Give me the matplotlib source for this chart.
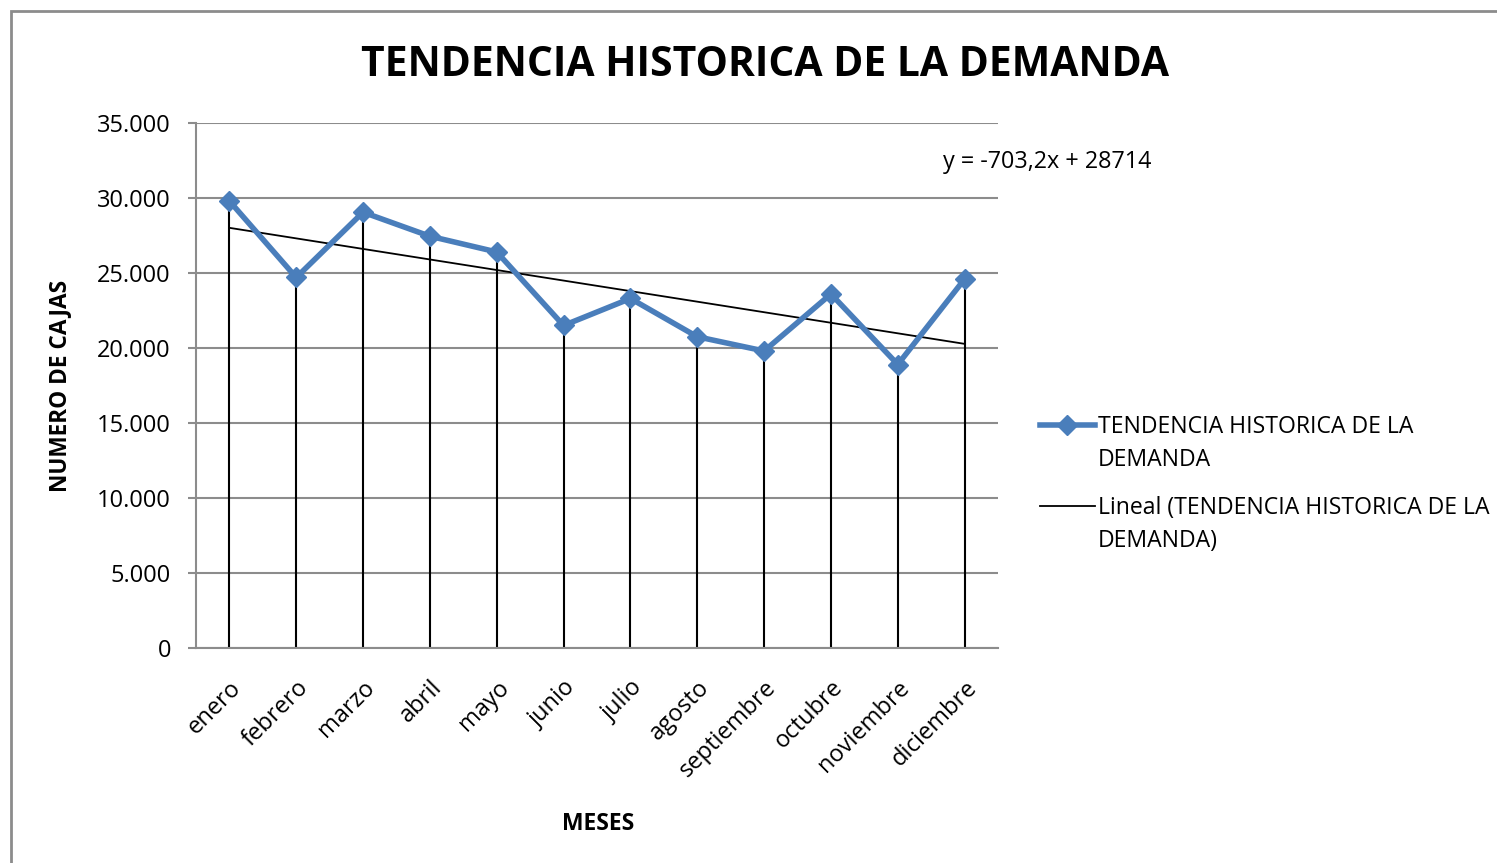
import numpy as np
import matplotlib.pyplot as plt
from matplotlib.lines import Line2D
from matplotlib.patches import Rectangle
from matplotlib.ticker import FuncFormatter

meses = ['enero', 'febrero', 'marzo', 'abril', 'mayo', 'junio', 'julio',
         'agosto', 'septiembre', 'octubre', 'noviembre', 'diciembre']
demanda = [29800, 24700, 29050, 27450, 26400, 21500, 23300,
           20750, 19800, 23600, 18900, 24600]
# linea de tendencia de Excel: y = m*x + b
pendiente = -703.2
intercepto = 28714

plt.rcParams['font.family'] = ['Open Sans', 'DejaVu Sans']
azul = '#4A7EBB'
gris = '#8C8C8C'
W, H = 1497, 863

fig = plt.figure(figsize=(W / 100, H / 100), dpi=100)
ax = fig.add_axes([0.1309, 0.2491, 0.5358, 0.6084])

x = np.arange(1, len(meses) + 1)

ax.vlines(x, 0, demanda, color='black', lw=1.5, zorder=2)
ax.plot(x, demanda, color=azul, lw=4, marker='D', markersize=10, zorder=4)
ax.plot(x, pendiente * x + intercepto, color='black', lw=1.3, zorder=3)

ax.set_xlim(0.5, 12.5)
ax.set_ylim(0, 35000)
ax.set_yticks(range(0, 35001, 5000))
ax.yaxis.set_major_formatter(FuncFormatter(lambda v, p: f'{int(v):,}'.replace(',', '.')))
ax.grid(axis='y', color=gris, lw=1.5, zorder=0)
ax.set_axisbelow(True)

for s in ['top', 'right']:
    ax.spines[s].set_visible(False)
for s in ['left', 'bottom']:
    ax.spines[s].set_color(gris)
    ax.spines[s].set_linewidth(1.5)

ax.set_xticks(x)
ax.set_xticklabels(meses, rotation=45, ha='right', va='top', rotation_mode='anchor')
ax.tick_params(axis='x', length=0, pad=20, labelsize=17)
ax.tick_params(axis='y', length=6, color=gris, width=1.5, pad=12, labelsize=17)

ax.set_ylabel('NUMERO DE CAJAS', fontsize=16.3, fontweight='bold', labelpad=18)
fig.text(598 / W, 1 - 824 / H, 'MESES', fontsize=16.5, fontweight='bold',
         ha='center', va='center')
fig.text(765 / W, 1 - 66 / H, 'TENDENCIA HISTORICA DE LA DEMANDA', fontsize=29.4,
         fontweight='bold', ha='center', va='center')
fig.text(943 / W, 1 - 162 / H, f'y = {pendiente:.1f}x + {intercepto}'.replace('.', ','),
         fontsize=16.8, ha='left', va='center')

# leyenda dibujada a mano para alinear la muestra con la primera linea del texto
leyenda = [
    (425, ['TENDENCIA HISTORICA DE LA', 'DEMANDA'], dict(color=azul, lw=4)),
    (506, ['Lineal (TENDENCIA HISTORICA DE LA', 'DEMANDA)'], dict(color='black', lw=1.3)),
]
for yp, lineas, estilo in leyenda:
    yf = 1 - yp / H
    fig.add_artist(Line2D([1040 / W, 1095 / W], [yf, yf], transform=fig.transFigure, **estilo))
    if estilo['color'] == azul:
        fig.add_artist(Line2D([1067 / W], [yf], transform=fig.transFigure, color=azul,
                              marker='D', markersize=10))
    for i, t in enumerate(lineas):
        fig.text(1098 / W, 1 - (yp + 2 + 33 * i) / H, t, fontsize=16.6,
                 ha='left', va='center')

fig.patches.append(Rectangle((11 / W, -0.1), 1.1, 1.1 - 11 / H, transform=fig.transFigure,
                             fill=False, edgecolor=gris, lw=2, figure=fig))

fig.savefig('out.png', dpi=100)
